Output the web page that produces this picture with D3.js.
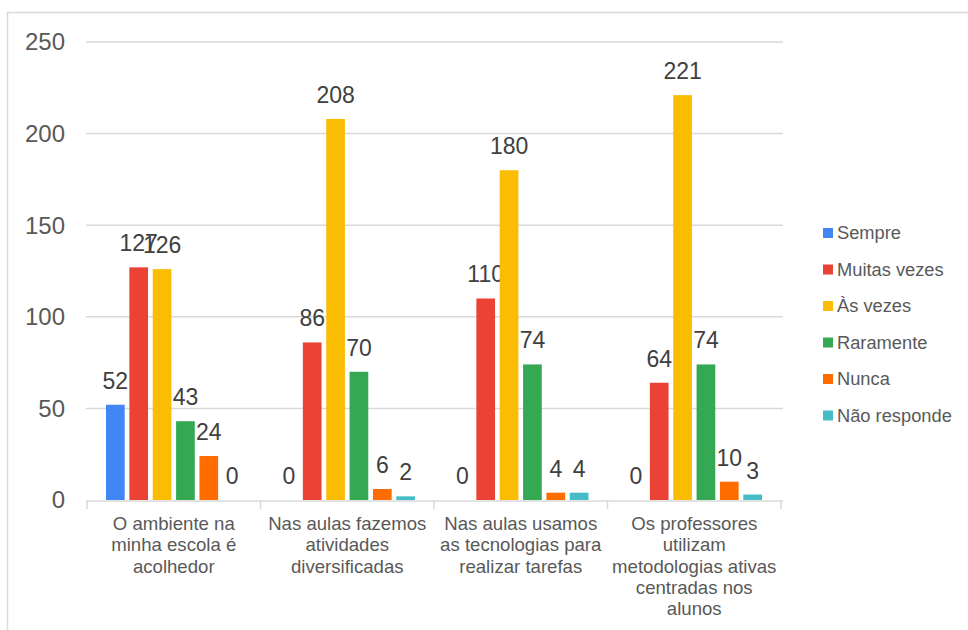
<!DOCTYPE html>
<html><head><meta charset="utf-8">
<script src="https://cdn.jsdelivr.net/npm/d3@7"></script>
<style>body{margin:0;background:#fff}svg{display:block}text{font-family:"Liberation Sans",Arial,sans-serif}</style>
</head><body><svg id="c" width="968" height="630"></svg>
<script>
const categories = [
  ["O ambiente na","minha escola é","acolhedor"],
  ["Nas aulas fazemos","atividades","diversificadas"],
  ["Nas aulas usamos","as tecnologias para","realizar tarefas"],
  ["Os professores","utilizam","metodologias ativas","centradas nos","alunos"]
];
const seriesNames = ["Sempre","Muitas vezes","Às vezes","Raramente","Nunca","Não responde"];
const seriesColors = ["#4285F4","#EA4335","#FBBC04","#34A853","#FF6D01","#46BDC6"];
const sempre = [52,0,0,0];
const muitasVezes = [127,86,110,64];
const asVezes = [126,208,180,221];
const raramente = [43,70,74,74];
const nunca = [24,6,4,10];
const naoResponde = [0,2,4,3];
const yTicks = [0,50,100,150,200,250];

const seriesValues = [sempre,muitasVezes,asVezes,raramente,nunca,naoResponde];
const svg = d3.select("#c");
// frame
svg.append("rect").attr("x",7.5).attr("y",12.5).attr("width",1000).attr("height",700)
  .attr("fill","none").attr("stroke","#d9d9d9").attr("stroke-width",1.5);

const pLeft=87, pRight=781, pTop=42, pBottom=500;
const y = d3.scaleLinear().domain([0,250]).range([pBottom,pTop]);
const catIdx = categories.map((c,i)=>i);
const x0 = d3.scaleBand().domain(catIdx).range([pLeft,pRight]).padding(0);
const x1 = d3.scaleBand().domain(seriesNames).range([19, x0.bandwidth()-19]).paddingInner(0.2).paddingOuter(0);

// gridlines
svg.append("g").selectAll("line").data(yTicks.filter(d=>d>0)).join("line")
  .attr("x1",pLeft-1).attr("x2",pRight+2).attr("y1",d=>y(d)).attr("y2",d=>y(d))
  .attr("stroke","#d9d9d9").attr("stroke-width",1.5);
// y labels
svg.append("g").selectAll("text").data(yTicks).join("text")
  .attr("x",65).attr("y",d=>y(d)).attr("dy","0.35em").attr("text-anchor","end")
  .attr("font-size",24).attr("fill","#595959").text(d=>d);

// bars
const g = svg.append("g");
catIdx.forEach(ci=>{
  seriesNames.forEach((s,si)=>{
    const v = seriesValues[si][ci];
    const bx = x0(ci)+x1(s);
    if(v>0){
      g.append("rect").attr("x",bx).attr("y",y(v)).attr("width",x1.bandwidth()).attr("height",y(0)-y(v))
        .attr("fill",seriesColors[si]);
    }
    g.append("text").attr("x",bx+x1.bandwidth()/2).attr("y",y(v)-16)
      .attr("text-anchor","middle").attr("font-size",23).attr("fill","#404040").text(v);
  });
});

// x axis line and ticks
svg.append("line").attr("x1",pLeft-1).attr("x2",pRight+2).attr("y1",pBottom+1).attr("y2",pBottom+1)
  .attr("stroke","#d9d9d9").attr("stroke-width",1.5);
const tickXs = catIdx.map(i=>x0(i)).concat([pRight]);
svg.append("g").selectAll("line").data(tickXs).join("line")
  .attr("x1",d=>d).attr("x2",d=>d).attr("y1",pBottom+1).attr("y2",pBottom+9)
  .attr("stroke","#d9d9d9").attr("stroke-width",1.5);
// category labels
catIdx.forEach(ci=>{
  const t = svg.append("text").attr("text-anchor","middle").attr("font-size",18.6).attr("fill","#595959");
  categories[ci].forEach((line,li)=>{
    t.append("tspan").attr("x",x0(ci)+x0.bandwidth()/2).attr("y",530+li*21.3).text(line);
  });
});

// legend
const lg = svg.append("g");
seriesNames.forEach((s,i)=>{
  const cy = 233 + i*36.5;
  lg.append("rect").attr("x",823).attr("y",cy-5).attr("width",10).attr("height",10).attr("fill",seriesColors[i]);
  lg.append("text").attr("x",837).attr("y",cy).attr("dy","0.35em").attr("font-size",18.3).attr("fill","#595959").text(s);
});
</script></body></html>
